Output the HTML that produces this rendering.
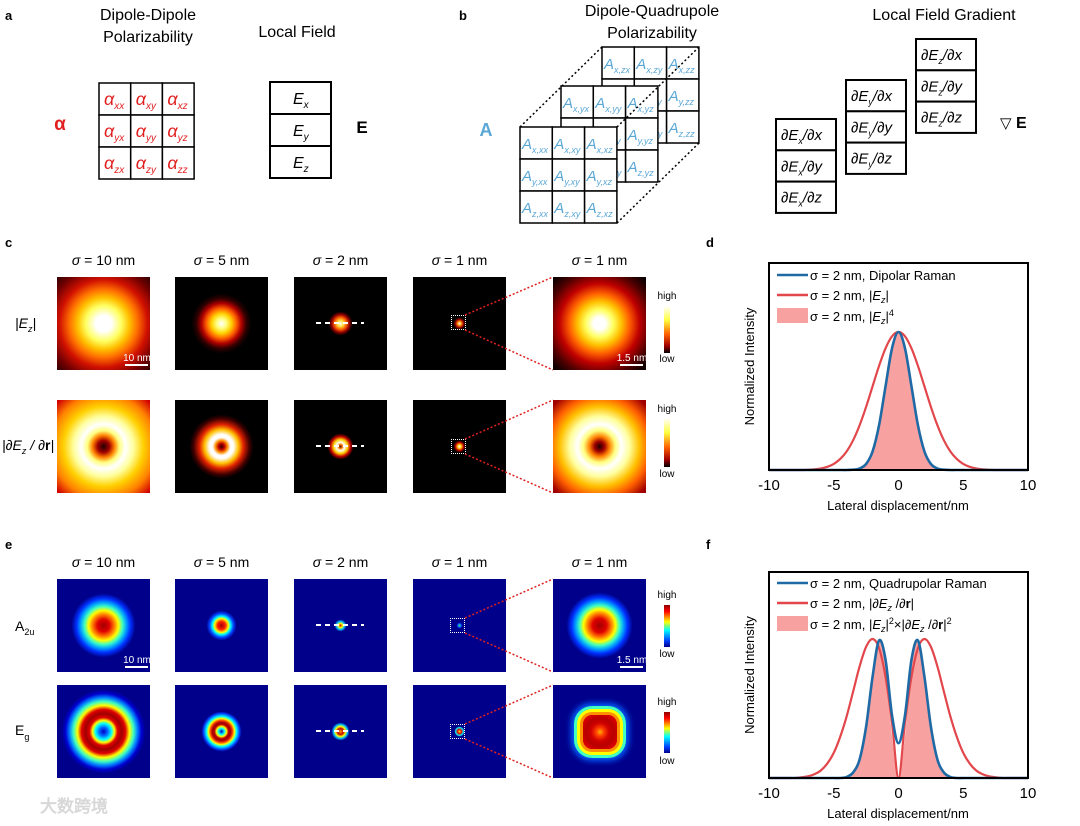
<!DOCTYPE html>
<html><head><meta charset="utf-8"><style>
body{margin:0;background:#fff;width:1080px;height:826px;position:relative;overflow:hidden;font-family:"Liberation Sans","Noto Sans CJK SC",sans-serif}
.hm{position:absolute;width:93px;height:93px;overflow:hidden}
.hot{background-color:#000}.jet{background-color:#00008b}
.box{position:absolute;border:1.5px dotted #fff;box-sizing:border-box;width:15px;height:15px}
#svg{position:absolute;left:0;top:0}
</style></head><body>
<div id="heatmaps"></div>
<svg id="svg" width="1080" height="826" font-family="Liberation Sans, sans-serif"></svg>
<script>
// ---- chart data ----
const xs=[-10,-9.5,-9,-8.5,-8,-7.5,-7,-6.5,-6,-5.5,-5,-4.5,-4,-3.5,-3,-2.5,-2,-1.5,-1,-0.5,0,0.5,1,1.5,2,2.5,3,3.5,4,4.5,5,5.5,6,6.5,7,7.5,8,8.5,9,9.5,10];
const xTicks=[-10,-5,0,5,10];
const dRed=[0,0,0,0,0,0,0.002,0.005,0.011,0.023,0.044,0.080,0.135,0.216,0.325,0.458,0.607,0.755,0.882,0.969,1,0.969,0.882,0.755,0.607,0.458,0.325,0.216,0.135,0.080,0.044,0.023,0.011,0.005,0.002,0,0,0,0,0,0];
const dBlue=[0,0,0,0,0,0,0,0,0,0,0,0,0,0.002,0.011,0.044,0.135,0.325,0.607,0.882,1,0.882,0.607,0.325,0.135,0.044,0.011,0.002,0,0,0,0,0,0,0,0,0,0,0,0,0];
const dFill=[0,0,0,0,0,0,0,0,0,0,0,0,0,0.002,0.011,0.044,0.135,0.325,0.607,0.882,1,0.882,0.607,0.325,0.135,0.044,0.011,0.002,0,0,0,0,0,0,0,0,0,0,0,0,0];
const fRed=[0,0,0,0,0,0.005,0.012,0.027,0.054,0.104,0.181,0.297,0.445,0.623,0.804,0.944,1,0.934,0.727,0.399,0,0.399,0.727,0.934,1,0.944,0.804,0.623,0.445,0.297,0.181,0.104,0.054,0.027,0.012,0.005,0,0,0,0,0];
const fBlue=[0,0,0,0,0,0,0,0,0,0,0,0,0.008,0.04,0.135,0.37,0.73,0.99,0.85,0.45,0.25,0.45,0.85,0.99,0.73,0.37,0.135,0.04,0.008,0,0,0,0,0,0,0,0,0,0,0,0];
const fFill=[0,0,0,0,0,0,0,0,0,0,0,0,0.008,0.037,0.135,0.374,0.734,0.993,0.825,0.30,0,0.30,0.825,0.993,0.734,0.374,0.135,0.037,0.008,0,0,0,0,0,0,0,0,0,0,0,0];

const NS="http://www.w3.org/2000/svg";
const svg=document.getElementById('svg');
function el(tag,attrs,parent){const e=document.createElementNS(NS,tag);for(const k in attrs)e.setAttribute(k,attrs[k]);(parent||svg).appendChild(e);return e;}
function T(x,y,str,attrs,parent){const t=el('text',Object.assign({x:x,y:y},attrs||{}),parent);t.textContent=str;return t;}
function sub(t,s,size,dy){const a=document.createElementNS(NS,'tspan');a.setAttribute('font-size',size);a.setAttribute('dy',dy);a.textContent=s;t.appendChild(a);const b=document.createElementNS(NS,'tspan');b.setAttribute('dy',-dy);b.textContent='';t.appendChild(b);return b;}

// ---- panel labels ----
[['a',5,20],['b',459,20],['c',5,247],['d',706,247],['e',5,549],['f',706,549]].forEach(p=>{
 const t=T(p[1],p[2],p[0],{'font-weight':'bold','font-size':13});
 
 
});

// ---- panel a ----
const ga=el('g',{});


T(148,20,'Dipole-Dipole',{'text-anchor':'middle','font-size':16},ga);
T(148,42,'Polarizability',{'text-anchor':'middle','font-size':16},ga);
T(297,37,'Local Field',{'text-anchor':'middle','font-size':16},ga);
T(60,130,'α',{'text-anchor':'middle','font-size':19,fill:'#e02020','font-weight':'bold'},ga);
T(362,133,'E',{'text-anchor':'middle','font-size':17,'font-weight':'bold'},ga);
const ax=['x','y','z'];
for(let r=0;r<3;r++)for(let c=0;c<3;c++){
 el('rect',{x:99+c*31.7,y:83+r*32,width:31.7,height:32,fill:'#fff',stroke:'#000','stroke-width':1.5},ga);
 const t=T(104+c*31.7,105+r*32,'α',{'font-size':18,fill:'#e02020','font-style':'italic'},ga);
 sub(t,ax[r]+ax[c],10,4);
}
for(let r=0;r<3;r++){
 el('rect',{x:270,y:82+r*32,width:61,height:32,fill:'#fff',stroke:'#000','stroke-width':2},ga);
 const t=T(293,104+r*32,'E',{'font-size':16,'font-style':'italic'},ga);
 sub(t,ax[r],10,4);
}

// ---- panel b ----
const gb=el('g',{});


T(652,16,'Dipole-Quadrupole',{'text-anchor':'middle','font-size':16},gb);
T(652,38,'Polarizability',{'text-anchor':'middle','font-size':16},gb);
T(486,136,'A',{'text-anchor':'middle','font-size':18,'font-weight':'bold',fill:'#5aa7d6'},gb);
const layers=[[602,47,'z'],[561,86,'y'],[520,127,'x']];
layers.forEach(L=>{
 for(let r=0;r<3;r++)for(let c=0;c<3;c++){
  el('rect',{x:L[0]+c*32.3,y:L[1]+r*32,width:32.3,height:32,fill:'#fff',stroke:'#000','stroke-width':1.5},gb);
  const t=T(L[0]+c*32.3+2,L[1]+r*32+22,'A',{'font-size':15,fill:'#5aa7d6','font-style':'italic'},gb);
  sub(t,ax[r]+','+L[2]+ax[c],9,4);
 }
});
[[520,127,602,47],[617,127,699,47],[617,223,699,143]].forEach(l=>el('line',{x1:l[0],y1:l[1],x2:l[2],y2:l[3],stroke:'#000','stroke-width':1.5,'stroke-dasharray':'2,2.5'},gb));
T(944,20,'Local Field Gradient',{'text-anchor':'middle','font-size':16},gb);
[[776,119,'x'],[846,80,'y'],[916,39,'z']].forEach(C=>{
 for(let r=0;r<3;r++){
  el('rect',{x:C[0],y:C[1]+r*31.3,width:60,height:31.3,fill:'#fff',stroke:'#000','stroke-width':2},gb);
  const t=T(C[0]+5,C[1]+r*31.3+21,'∂E',{'font-size':15,'font-style':'italic'},gb);
  const b=sub(t,C[2],9,4);b.textContent='/∂'+ax[r];
 }
});
T(1000,128,'▽',{'font-size':15},gb);T(1016,128,'E',{'font-size':16,'font-weight':'bold'},gb);

// ---- heatmaps (c, e) ----
const cols=[57,175,294,413,553];
const sig=['10','5','2','1','1'];
const hm=document.getElementById('heatmaps');
const hotG=[
 ['#fff 0,#fff 8px,#ffff60 18px,#ffc000 26px,#ff7000 34px,#d01000 44px,#700000 56px,#300000 66px',
  '#fff 0,#ffff80 5px,#ffd000 10px,#ff6000 15px,#b00000 20px,#300000 25px,#000 30px',
  '#fff 0,#ffe040 3px,#ff6000 6px,#900000 9px,#000 12px',
  '#fff 0,#ff9000 2px,#a00000 4px,#000 6px',
  '#fff 0,#fff 6px,#ffff60 14px,#ffc000 22px,#ff6000 30px,#c00000 40px,#500000 52px,#100000 62px'],
 ['#200000 0,#a00000 6px,#ff8000 11px,#ffff80 16px,#fff 22px,#ffffa0 30px,#ffd000 40px,#ff8000 52px,#d00000 64px',
  '#300000 0,#c00000 3px,#ff9000 6px,#fff 9px,#fff 12px,#ffc000 17px,#e02000 22px,#400000 28px,#000 32px',
  '#400000 0,#ff8000 2px,#fff 4px,#ffd000 7px,#c00000 10px,#000 13px',
  '#fff 0,#ffc000 2px,#c00000 4px,#000 6px',
  '#200000 0,#a00000 5px,#ff8000 10px,#ffff80 16px,#fff 22px,#ffffa0 30px,#ffc000 40px,#ff6000 50px,#a00000 62px']];
const jetG=[
 ['#a00000 0,#e00000 6px,#ff8000 11px,#ffff00 15px,#40ffc0 19px,#00a0ff 23px,#0030ff 27px,#00008b 32px',
  '#a00000 0,#ff2000 4px,#ffff00 7px,#00ffff 9px,#0040ff 12px,#00008b 15px',
  '#c00000 0,#ffff00 2px,#00c0ff 4px,#00008b 6px',
  '#40ff80 0,#0040ff 2px,#00008b 3px',
  '#a00000 0,#e00000 7px,#ff8000 12px,#ffff00 16px,#40ffc0 20px,#00a0ff 24px,#0030ff 28px,#00008b 33px'],
 ['#0000c0 0,#0060ff 4px,#00ffff 8px,#ffff00 11px,#e00000 14px,#a00000 18px,#e00000 22px,#ffff00 26px,#40ffc0 30px,#0080ff 34px,#0000d0 38px,#00008b 42px',
  '#0000c0 0,#00ffff 3px,#ffff00 5px,#c00000 7px,#a00000 9px,#ff4000 11px,#ffff00 13px,#00ffff 15px,#0040ff 18px,#00008b 20px',
  '#ffa000 0,#c00000 3px,#ffff00 5px,#00c0ff 7px,#00008b 9px',
  '#ffff00 0,#e00000 2px,#00ffff 4px,#00008b 5px',
  null]];
function addHm(x,y,grad,cls,name){
 const d=document.createElement('div');d.className='hm '+cls;d.style.left=x+'px';d.style.top=y+'px';
 if(grad)d.style.backgroundImage='radial-gradient(circle at 50% 50%,'+grad+')';
 
 
 hm.appendChild(d);return d;
}
const cRows=[277,400],eRows=[579,685];
for(let r=0;r<2;r++)for(let c=0;c<5;c++){
 addHm(cols[c],cRows[r],hotG[r][c],'hot','heatmap-c-row'+(r+1)+'-col'+(c+1));
 const d=addHm(cols[c],eRows[r],jetG[r][c],'jet','heatmap-e-row'+(r+1)+'-col'+(c+1));
 if(!jetG[r][c]){const s=document.createElement('div');s.style.cssText='position:absolute;left:29.5px;top:29.5px;width:34px;height:34px;border-radius:9px;background:radial-gradient(circle,#ffb000 0,#ff4000 4px,#d00000 9px,#b80000 14px,#e00000 20px);box-shadow:0 0 0 3px #ff9000,0 0 0 6px #ffff00,0 0 0 9px #40ffc0,0 0 6px 12px #0060ff';d.appendChild(s);}
}
[[457,315],[457,439],[456,618],[456,724]].forEach((b,i)=>{const d=document.createElement('div');d.className='box';d.style.left=(b[0]-6)+'px';d.style.top=b[1]+'px';
 
 
 hm.appendChild(d);});

// titles, labels, lines in svg
[265,567].forEach(y=>cols.forEach((c,i)=>{const t=T(c+46.5,y,'σ',{'text-anchor':'middle','font-size':14,'font-style':'italic'});const a=document.createElementNS(NS,'tspan');a.setAttribute('font-style','normal');a.textContent=' = '+sig[i]+' nm';t.appendChild(a);}));
[[cRows[0]+46],[cRows[1]+46],[eRows[0]+46],[eRows[1]+46]].forEach(y=>el('line',{x1:316,y1:y[0],x2:364,y2:y[0],stroke:'#fff','stroke-width':2,'stroke-dasharray':'5,4'}));
[[315,330,277],[439,454,400],[618,633,579],[724,739,685]].forEach(b=>{
 el('line',{x1:465,y1:b[0],x2:553,y2:b[2],stroke:'#e02020','stroke-width':1.5,'stroke-dasharray':'2,2'});
 el('line',{x1:465,y1:b[1],x2:553,y2:b[2]+93,stroke:'#e02020','stroke-width':1.5,'stroke-dasharray':'2,2'});
});
[[cRows[0],'10 nm',137],[cRows[0],'1.5 nm',632],[eRows[0],'10 nm',137],[eRows[0],'1.5 nm',632]].forEach((s,i)=>{
 const x=i%2?620:125;el('line',{x1:x,y1:s[0]+88,x2:x+23,y2:s[0]+88,stroke:'#fff','stroke-width':2});
 T(s[2],s[0]+84,s[1],{'text-anchor':'middle','font-size':10,fill:'#fff'});
});
const defs=el('defs',{});
const lg1=el('linearGradient',{id:'hotbar',x1:0,y1:0,x2:0,y2:1},defs);
[['0','#fff'],['0.3','#ffff40'],['0.6','#ff6000'],['0.85','#a00000'],['1','#000']].forEach(s=>el('stop',{offset:s[0],'stop-color':s[1]},lg1));
const lg2=el('linearGradient',{id:'jetbar',x1:0,y1:0,x2:0,y2:1},defs);
[['0','#900000'],['0.15','#ff0000'],['0.4','#ffff00'],['0.6','#00ffff'],['0.85','#0040ff'],['1','#00008b']].forEach(s=>el('stop',{offset:s[0],'stop-color':s[1]},lg2));
[[306,353,299,362,'hotbar'],[418,467,412,477,'hotbar'],[605,647,598,657,'jetbar'],[712,753,705,764,'jetbar']].forEach(c=>{
 const r=el('rect',{x:664,y:c[0],width:6,height:c[1]-c[0],fill:'url(#'+c[4]+')'});
 
 
 T(667,c[2],'high',{'text-anchor':'middle','font-size':10});T(667,c[3],'low',{'text-anchor':'middle','font-size':10});
});
let t=T(15,328,'|E',{'font-size':14,'font-style':'italic'});let b=sub(t,'z',9,4);b.textContent='|';
t=T(2,450,'|∂E',{'font-size':14,'font-style':'italic'});b=sub(t,'z',9,4);b.textContent=' / ∂';const rr=document.createElementNS(NS,'tspan');rr.setAttribute('font-weight','bold');rr.setAttribute('font-style','normal');rr.textContent='r';t.appendChild(rr);const pp=document.createElementNS(NS,'tspan');pp.textContent='|';t.appendChild(pp);
t=T(15,631,'A',{'font-size':14});sub(t,'2u',9,4);
t=T(15,735,'E',{'font-size':14});sub(t,'g',9,5);
const wm=T(40,812,'大数跨境',{'font-size':17,fill:'#d8d8d8','font-weight':'bold'});



// ---- line charts d, f ----
function pathFrom(vals,sx,sy){
 const p=xs.map((x,i)=>[sx(x),sy(vals[i])]);let d='M'+p[0][0]+','+p[0][1];
 for(let i=0;i<p.length-1;i++){const p0=p[Math.max(0,i-1)],p1=p[i],p2=p[i+1],p3=p[Math.min(p.length-1,i+2)];
  d+=' C'+(p1[0]+(p2[0]-p0[0])/6)+','+(p1[1]+(p2[1]-p0[1])/6)+' '+(p2[0]-(p3[0]-p1[0])/6)+','+(p2[1]-(p3[1]-p1[1])/6)+' '+p2[0]+','+p2[1];}
 return d;}
function chart(top,bottom,peak,red,blue,fill,legend,id){
 const g=el('g',{});
 
 
 const L=769,R=1028;
 const sx=x=>L+(x+10)/20*(R-L);const sy=v=>bottom-v*(bottom-peak);
 const fp=el('path',{d:pathFrom(fill,sx,sy)+' L'+R+','+bottom+' L'+L+','+bottom+'Z',fill:'#f7a1a1'},g);
 
 
 const rp=el('path',{d:pathFrom(red,sx,sy),fill:'none',stroke:'#e2474b','stroke-width':2.2},g);
 
 
 const bp=el('path',{d:pathFrom(blue,sx,sy),fill:'none',stroke:'#1f6aa5','stroke-width':2.6},g);
 
 
 el('rect',{x:L,y:top,width:R-L,height:bottom-top,fill:'none',stroke:'#000','stroke-width':2},g);
 xTicks.forEach(v=>{const tk=T(sx(v),bottom+20,String(v),{'text-anchor':'middle','font-size':15},g);
  
  });
 const xl=T(898,bottom+40,'Lateral displacement/nm',{'text-anchor':'middle','font-size':13},g);
 
 
 const yl=T(0,0,'Normalized  Intensity',{'text-anchor':'middle','font-size':13,transform:'translate(754,'+((top+bottom)/2)+') rotate(-90)'},g);
 
 
 legend.forEach((lg,i)=>{
  const y=lg[0];
  if(lg[1]==='fill')el('rect',{x:777,y:y-8,width:31,height:15,fill:'#f7a1a1'},g);
  else el('line',{x1:777,y1:y,x2:808,y2:y,stroke:lg[1],'stroke-width':2.4},g);
  const tt=T(810,y+5,'',{'font-size':13},g);tt.innerHTML=lg[2];
  
  
 });
}
chart(263,470,332,dRed,dBlue,dFill,[[275,'#1f6aa5','σ = 2 nm, Dipolar Raman'],[295,'#e2474b','σ = 2 nm, |<tspan font-style="italic">E</tspan><tspan font-size="9" dy="3" font-style="italic">z</tspan><tspan dy="-3">|</tspan>'],[316,'fill','σ = 2 nm, |<tspan font-style="italic">E</tspan><tspan font-size="9" dy="3" font-style="italic">z</tspan><tspan dy="-3">|</tspan><tspan font-size="9" dy="-5">4</tspan>']],'d');
chart(572,778,639,fRed,fBlue,fFill,[[583,'#1f6aa5','σ = 2 nm, Quadrupolar Raman'],[603,'#e2474b','σ = 2 nm, |<tspan font-style="italic">∂E</tspan><tspan font-size="9" dy="3" font-style="italic">z</tspan><tspan dy="-3"> /∂</tspan><tspan font-weight="bold">r</tspan>|'],[624,'fill','σ = 2 nm, |<tspan font-style="italic">E</tspan><tspan font-size="9" dy="3" font-style="italic">z</tspan><tspan dy="-3">|</tspan><tspan font-size="9" dy="-5">2</tspan><tspan dy="5">×|</tspan><tspan font-style="italic">∂E</tspan><tspan font-size="9" dy="3" font-style="italic">z</tspan><tspan dy="-3"> /∂</tspan><tspan font-weight="bold">r</tspan>|<tspan font-size="9" dy="-5">2</tspan>']],'f');
</script>
</body></html>
